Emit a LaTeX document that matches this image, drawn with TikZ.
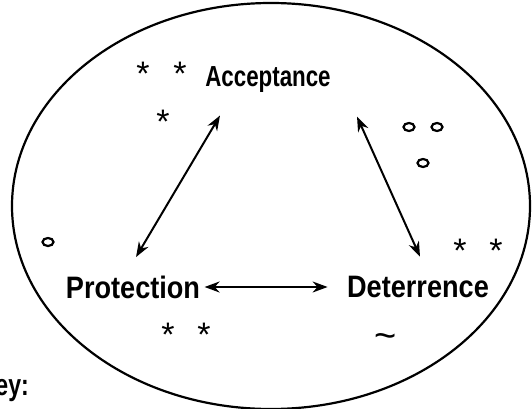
\documentclass[tikz,border=0pt]{standalone}
\usepackage{fontspec}
\setmainfont{Liberation Sans}
\newfontfamily\accfont[FakeStretch=0.77]{Liberation Sans}
\newfontfamily\cornerfont[FakeStretch=0.875]{Liberation Sans}
\usetikzlibrary{arrows.meta, positioning, shapes.geometric, calc}

\begin{document}
\begin{tikzpicture}[
    x=1pt, y=-1pt,
    font=\cornerfont\bfseries\fontsize{31}{34}\selectfont,
    >={Stealth[length=15pt,width=11pt]},
    link/.style={<->, line width=2pt},
    astr/.style={font=\fontsize{34}{36}\selectfont, inner sep=0pt, yshift=-8pt},
    ring/.style={draw, ellipse, line width=2.2pt, minimum width=11pt, minimum height=8pt, inner sep=0pt},
]
    \useasboundingbox (0,0) rectangle (532,409);
    % boundary
    \draw[line width=2.2pt] (271,206) ellipse [x radius=259, y radius=203];
    % corners of the triangle
    \node[font=\accfont\bfseries\fontsize{29}{32}\selectfont] (acc) at (268,80) {Acceptance};
    \node (pro) at (133,287) {Protection};
    \node (det) at (418,287) {Deterrence};
    % links
    \draw[link] ([shift={(-48,19)}]acc.south) -- ([shift={(3,-15)}]pro.north);
    \draw[link] ([shift={(89,20)}]acc.south) -- ([shift={(2,-16)}]det.north);
    \draw[link] ([xshift=1pt]pro.east) -- ([xshift=-16pt]det.west);
    % markers
    \node[astr] (s1) at (143,66) {*};
    \node[astr] (s2) at (180,66) {*};
    \node[astr] (s3) at (163,114) {*};
    \node[astr] (s4) at (460,243) {*};
    \node[astr] (s5) at (496,243) {*};
    \node[astr] (s6) at (168,327) {*};
    \node[astr] (s7) at (204,327) {*};
    \node[ring] (o1) at (409,127) {};
    \node[ring] (o2) at (437,127) {};
    \node[ring] (o3) at (423,163) {};
    \node[ring] (o4) at (48,242) {};
    \node[font=\fontsize{38}{40}\selectfont, inner sep=0pt] (tl) at (386,341) {\textasciitilde};
    % key
    \node[anchor=base east, inner sep=0pt, font=\accfont\bfseries\fontsize{30}{32}\selectfont] (key) at (29,395) {Key:};
\end{tikzpicture}
\end{document}
